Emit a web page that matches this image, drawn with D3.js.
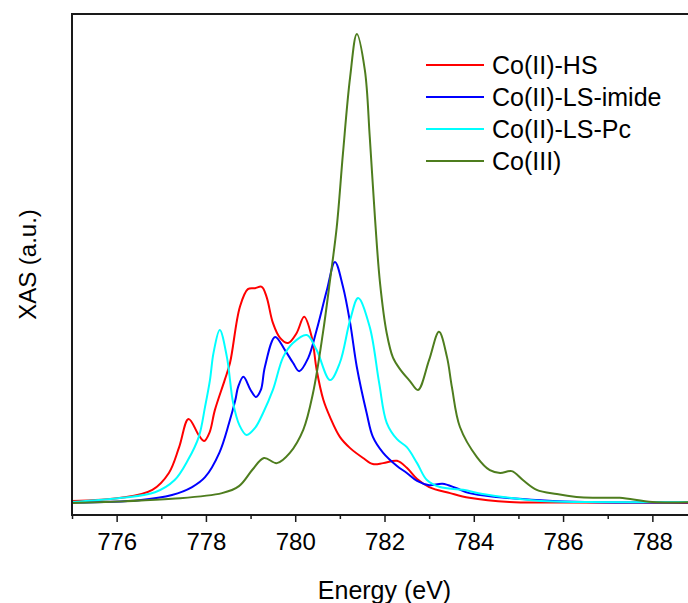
<!DOCTYPE html>
<html>
<head>
<meta charset="utf-8">
<script src="https://cdn.jsdelivr.net/npm/d3@7"></script>
<style>
  html, body { margin: 0; padding: 0; background: #fff; }
  svg { display: block; font-family: Arial, "Liberation Sans", sans-serif; }
</style>
</head>
<body>
<svg id="chart" width="688" height="603"></svg>
<script>
// Co L3-edge XAS spectra (normalised intensity vs photon energy)
const seriesNames = ["Co(II)-HS", "Co(II)-LS-imide", "Co(II)-LS-Pc", "Co(III)"];
const seriesColors = ["#ff0000", "#0000ff", "#00ffff", "#4e7d1e"];

const hsEnergy = [775.0, 776.1, 776.8, 777.17, 777.4, 777.61, 777.85, 777.96, 778.08, 778.2, 778.42, 778.54, 778.76, 778.94, 779.1, 779.25, 779.36, 779.5, 779.66, 779.84, 780.03, 780.2, 780.37, 780.48, 780.63, 780.78, 781.0, 781.23, 781.52, 781.74, 781.97, 782.28, 782.5, 782.73, 783.0, 783.47, 783.9, 784.8, 786.0, 789.0];
const hsValue  = [0.004, 0.011, 0.028, 0.064, 0.119, 0.179, 0.143, 0.132, 0.150, 0.198, 0.262, 0.299, 0.418, 0.456, 0.458, 0.461, 0.439, 0.384, 0.352, 0.341, 0.362, 0.397, 0.354, 0.284, 0.220, 0.183, 0.141, 0.117, 0.096, 0.083, 0.085, 0.090, 0.075, 0.051, 0.034, 0.021, 0.011, 0.002, 0.001, 0.0];

const imideEnergy = [775.0, 776.5, 777.24, 777.69, 777.98, 778.3, 778.52, 778.66, 778.72, 778.84, 779.0, 779.12, 779.23, 779.32, 779.55, 779.77, 779.95, 780.09, 780.29, 780.48, 780.71, 780.89, 781.07, 781.23, 781.38, 781.6, 781.74, 781.97, 782.28, 782.5, 782.73, 783.0, 783.3, 783.6, 783.9, 784.5, 785.5, 786.5, 789.0];
const imideValue  = [0.001, 0.006, 0.017, 0.034, 0.055, 0.107, 0.171, 0.220, 0.247, 0.269, 0.241, 0.226, 0.241, 0.290, 0.354, 0.326, 0.299, 0.281, 0.309, 0.369, 0.454, 0.514, 0.461, 0.384, 0.290, 0.192, 0.141, 0.107, 0.079, 0.064, 0.047, 0.038, 0.041, 0.032, 0.021, 0.013, 0.006, 0.002, 0.001];

const pcEnergy = [775.0, 776.12, 776.86, 777.3, 777.6, 777.84, 777.98, 778.09, 778.17, 778.31, 778.47, 778.61, 778.75, 778.91, 779.1, 779.28, 779.5, 779.73, 779.95, 780.26, 780.48, 780.78, 781.0, 781.23, 781.41, 781.67, 781.88, 782.05, 782.28, 782.5, 782.73, 782.95, 783.24, 783.76, 784.2, 784.8, 785.5, 786.5, 789.0];
const pcValue  = [0.002, 0.011, 0.023, 0.049, 0.092, 0.141, 0.205, 0.262, 0.320, 0.369, 0.311, 0.213, 0.166, 0.145, 0.160, 0.192, 0.241, 0.311, 0.341, 0.358, 0.326, 0.262, 0.299, 0.390, 0.437, 0.375, 0.256, 0.171, 0.136, 0.119, 0.085, 0.049, 0.034, 0.028, 0.019, 0.011, 0.004, 0.002, 0.002];

const co3Energy = [775.0, 777.24, 778.36, 778.74, 779.05, 779.3, 779.59, 779.88, 780.18, 780.4, 780.62, 780.78, 780.93, 781.07, 781.23, 781.38, 781.56, 781.67, 781.79, 781.9, 782.05, 782.19, 782.35, 782.57, 782.75, 783.0, 783.22, 783.4, 783.51, 783.69, 784.07, 784.36, 784.59, 784.85, 785.1, 785.41, 785.86, 786.3, 786.67, 787.27, 788.0, 789.0];
const co3Value  = [0.0, 0.009, 0.021, 0.036, 0.072, 0.096, 0.085, 0.107, 0.156, 0.235, 0.362, 0.475, 0.588, 0.746, 0.908, 1.0, 0.923, 0.780, 0.603, 0.469, 0.362, 0.310, 0.285, 0.260, 0.241, 0.305, 0.365, 0.311, 0.247, 0.162, 0.098, 0.070, 0.064, 0.068, 0.049, 0.028, 0.019, 0.013, 0.011, 0.011, 0.002, 0.002];

const majorTicks = [776, 778, 780, 782, 784, 786, 788];
const minorTicks = [775, 777, 779, 781, 783, 785, 787, 789];

const energies = [hsEnergy, imideEnergy, pcEnergy, co3Energy];
const values = [hsValue, imideValue, pcValue, co3Value];

const svg = d3.select("#chart");
const plot = { left: 72, right: 697, top: 14, bottom: 515 };

const x = d3.scaleLinear().domain([775, 789]).range([plot.left, plot.right]);
const y = d3.scaleLinear().domain([-0.0256, 1.0426]).range([plot.bottom, plot.top]);

svg.append("defs").append("clipPath").attr("id", "plot-clip")
  .append("rect")
  .attr("x", plot.left).attr("y", plot.top)
  .attr("width", plot.right - plot.left).attr("height", plot.bottom - plot.top);

// spectra
const line = d3.line()
  .x(d => x(d[0]))
  .y(d => y(d[1]))
  .curve(d3.curveCatmullRom.alpha(0.5));

const lines = svg.append("g").attr("clip-path", "url(#plot-clip)");
seriesNames.forEach((name, i) => {
  const pts = d3.zip(energies[i], values[i]);
  lines.append("path")
    .datum(pts)
    .attr("fill", "none")
    .attr("stroke", seriesColors[i])
    .attr("stroke-width", 2)
    .attr("stroke-linejoin", "round")
    .attr("d", line);
});

// frame
svg.append("rect")
  .attr("x", plot.left).attr("y", plot.top)
  .attr("width", plot.right - plot.left).attr("height", plot.bottom - plot.top)
  .attr("fill", "none").attr("stroke", "#1a1a1a").attr("stroke-width", 2);

// x axis: minor and major ticks
const minorAxis = svg.append("g")
  .attr("transform", `translate(0,${plot.bottom})`)
  .call(d3.axisBottom(x).tickValues(minorTicks).tickSize(4).tickFormat(""));
minorAxis.select(".domain").remove();
minorAxis.selectAll("line").attr("stroke", "#1a1a1a").attr("stroke-width", 1.5);

const majorAxis = svg.append("g")
  .attr("transform", `translate(0,${plot.bottom})`)
  .call(d3.axisBottom(x).tickValues(majorTicks).tickSize(7).tickPadding(11).tickFormat(d3.format("d")));
majorAxis.select(".domain").remove();
majorAxis.selectAll("line").attr("stroke", "#1a1a1a").attr("stroke-width", 1.5);
majorAxis.selectAll("text")
  .attr("fill", "#000")
  .style("font-size", "24px")
  .style("font-family", "Arial, 'Liberation Sans', sans-serif");

// axis titles
svg.append("text")
  .attr("x", (plot.left + plot.right) / 2)
  .attr("y", 599)
  .attr("text-anchor", "middle")
  .style("font-size", "25px")
  .text("Energy (eV)");

svg.append("text")
  .attr("transform", `translate(36,${(plot.top + plot.bottom) / 2}) rotate(-90)`)
  .attr("text-anchor", "middle")
  .style("font-size", "24px")
  .text("XAS (a.u.)");

// legend
const legend = svg.append("g");
seriesNames.forEach((name, i) => {
  const cy = 65 + i * 32;
  legend.append("line")
    .attr("x1", 426).attr("x2", 484)
    .attr("y1", cy).attr("y2", cy)
    .attr("stroke", seriesColors[i]).attr("stroke-width", 2);
  legend.append("text")
    .attr("x", 492).attr("y", cy + 9)
    .style("font-size", "25px")
    .text(name);
});
</script>
</body>
</html>
